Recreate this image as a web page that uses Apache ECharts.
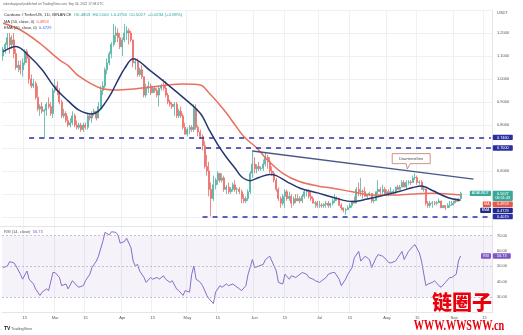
<!DOCTYPE html>
<html>
<head>
<meta charset="utf-8">
<script src="https://cdn.jsdelivr.net/npm/echarts/dist/echarts.min.js"></script>
<style>
  html, body { margin: 0; padding: 0; background: #ffffff; }
  #chart { width: 523px; height: 335px; }
</style>
</head>
<body>
<div id="chart"></div>
<script>
// ADA/USDT daily candles, [open, close, low, high], one array per month (2022)
const febCandles = [
  [1.10,1.13,1.08,1.14],[1.13,1.15,1.11,1.16],[1.15,1.18,1.13,1.20],[1.18,1.15,1.11,1.20],
  [1.15,1.17,1.13,1.19],[1.17,1.11,1.09,1.20],[1.11,1.05,1.04,1.13],[1.05,1.06,1.03,1.08],
  [1.06,1.04,1.02,1.08],[1.04,1.07,1.01,1.09],[1.07,1.12,1.06,1.13],[1.12,1.09,1.07,1.13],
  [1.09,1.00,0.98,1.10],[1.00,0.97,0.96,1.02],[0.97,0.98,0.96,1.00],[0.98,0.92,0.91,0.99],
  [0.92,0.87,0.86,0.97],[0.87,0.88,0.84,0.89],[0.88,0.86,0.85,0.90],[0.86,0.865,0.74,0.87],
  [0.865,0.89,0.84,0.90],[0.89,0.88,0.87,0.92],[0.88,0.85,0.84,0.90],[0.85,0.95,0.83,0.96]
];
const marCandles = [
  [0.95,0.97,0.94,1.00],[0.97,0.95,0.93,0.99],[0.95,0.90,0.89,0.96],[0.90,0.84,0.83,0.91],
  [0.84,0.85,0.83,0.87],[0.85,0.82,0.81,0.86],[0.82,0.80,0.79,0.84],[0.80,0.81,0.79,0.83],
  [0.81,0.84,0.80,0.86],[0.84,0.80,0.79,0.85],[0.80,0.79,0.78,0.82],[0.79,0.80,0.78,0.81],
  [0.80,0.78,0.77,0.81],[0.78,0.80,0.77,0.81],[0.80,0.79,0.78,0.81],[0.79,0.84,0.78,0.85],
  [0.84,0.83,0.82,0.85],[0.83,0.85,0.81,0.86],[0.85,0.86,0.84,0.87],[0.86,0.83,0.82,0.86],
  [0.83,0.88,0.83,0.90],[0.88,0.95,0.87,0.97],[0.95,0.97,0.93,0.99],[0.97,1.04,0.96,1.05],
  [1.04,1.07,1.02,1.09],[1.07,1.11,1.06,1.12],[1.11,1.15,1.09,1.16],[1.15,1.19,1.14,1.24],
  [1.19,1.20,1.16,1.23],[1.20,1.18,1.16,1.22],[1.18,1.14,1.13,1.20]
];
const aprCandles = [
  [1.14,1.17,1.10,1.18],[1.17,1.20,1.16,1.24],[1.20,1.21,1.17,1.23],[1.21,1.20,1.15,1.22],
  [1.20,1.17,1.16,1.21],[1.17,1.07,1.05,1.17],[1.07,1.075,1.04,1.09],[1.075,1.02,1.01,1.09],
  [1.02,1.04,1.01,1.05],[1.04,1.01,1.00,1.06],[1.01,0.93,0.92,1.01],[0.93,0.96,0.92,0.98],
  [0.96,0.97,0.94,0.99],[0.97,0.94,0.93,0.98],[0.94,0.96,0.94,0.97],[0.96,0.95,0.94,0.97],
  [0.95,0.93,0.92,0.96],[0.93,0.96,0.88,0.97],[0.96,0.97,0.95,0.98],[0.97,0.96,0.95,1.00],
  [0.96,0.93,0.92,0.99],[0.93,0.90,0.89,0.94],[0.90,0.89,0.88,0.91],[0.89,0.88,0.87,0.90],
  [0.88,0.89,0.84,0.90],[0.89,0.84,0.83,0.90],[0.84,0.86,0.83,0.87],[0.86,0.84,0.83,0.88],
  [0.84,0.79,0.78,0.85],[0.79,0.76,0.76,0.81]
];
const mayCandles = [
  [0.76,0.78,0.75,0.79],[0.78,0.79,0.76,0.80],[0.79,0.78,0.77,0.80],[0.78,0.87,0.77,0.89],
  [0.87,0.79,0.78,0.89],[0.79,0.77,0.75,0.80],[0.77,0.75,0.74,0.78],[0.75,0.71,0.69,0.76],
  [0.71,0.62,0.61,0.73],[0.62,0.60,0.58,0.67],[0.60,0.52,0.49,0.64],[0.52,0.48,0.402,0.55],
  [0.48,0.54,0.47,0.58],[0.54,0.56,0.52,0.57],[0.56,0.59,0.54,0.60],[0.59,0.56,0.55,0.59],
  [0.56,0.57,0.55,0.59],[0.57,0.52,0.51,0.58],[0.52,0.53,0.50,0.54],[0.53,0.51,0.50,0.55],
  [0.51,0.52,0.50,0.53],[0.52,0.54,0.51,0.55],[0.54,0.52,0.51,0.56],[0.52,0.521,0.50,0.53],
  [0.521,0.51,0.50,0.53],[0.51,0.48,0.46,0.52],[0.48,0.47,0.46,0.50],[0.47,0.48,0.46,0.49],
  [0.48,0.51,0.47,0.52],[0.51,0.59,0.50,0.60],[0.59,0.63,0.57,0.69]
];
const junCandles = [
  [0.63,0.61,0.59,0.66],[0.61,0.62,0.59,0.63],[0.62,0.61,0.60,0.64],[0.61,0.612,0.60,0.62],
  [0.612,0.63,0.60,0.65],[0.63,0.66,0.62,0.68],[0.66,0.64,0.61,0.67],[0.64,0.60,0.59,0.66],
  [0.60,0.59,0.58,0.62],[0.59,0.56,0.55,0.60],[0.56,0.52,0.51,0.57],[0.52,0.48,0.47,0.53],
  [0.48,0.46,0.44,0.49],[0.46,0.49,0.45,0.50],[0.49,0.51,0.44,0.52],[0.51,0.48,0.47,0.52],
  [0.48,0.49,0.47,0.51],[0.49,0.46,0.44,0.50],[0.46,0.48,0.45,0.49],[0.48,0.47,0.46,0.50],
  [0.47,0.48,0.47,0.50],[0.48,0.47,0.46,0.49],[0.47,0.49,0.46,0.50],[0.49,0.51,0.48,0.52],
  [0.51,0.512,0.49,0.52],[0.512,0.49,0.48,0.52],[0.49,0.48,0.47,0.51],[0.48,0.46,0.46,0.49],
  [0.46,0.462,0.44,0.47],[0.462,0.45,0.44,0.47]
];
const julCandles = [
  [0.45,0.452,0.44,0.47],[0.452,0.45,0.44,0.46],[0.45,0.455,0.44,0.46],[0.455,0.46,0.44,0.47],
  [0.46,0.45,0.44,0.47],[0.45,0.46,0.44,0.46],[0.46,0.47,0.45,0.48],[0.47,0.48,0.46,0.50],
  [0.48,0.482,0.47,0.49],[0.482,0.45,0.45,0.48],[0.45,0.44,0.43,0.46],[0.44,0.43,0.42,0.44],
  [0.43,0.432,0.41,0.44],[0.432,0.44,0.43,0.45],[0.44,0.45,0.44,0.46],[0.45,0.47,0.44,0.47],
  [0.47,0.46,0.46,0.49],[0.46,0.52,0.46,0.53],[0.52,0.51,0.49,0.55],[0.51,0.512,0.49,0.57],
  [0.512,0.51,0.48,0.52],[0.51,0.49,0.49,0.53],[0.49,0.50,0.48,0.50],[0.50,0.502,0.49,0.51],
  [0.502,0.47,0.46,0.50],[0.47,0.472,0.46,0.48],[0.472,0.51,0.47,0.51],[0.51,0.52,0.50,0.56],
  [0.52,0.51,0.50,0.53],[0.51,0.52,0.50,0.54],[0.52,0.50,0.50,0.53]
];
const augCandles = [
  [0.50,0.51,0.49,0.52],[0.51,0.505,0.49,0.52],[0.505,0.51,0.50,0.53],[0.51,0.512,0.50,0.52],
  [0.512,0.53,0.50,0.53],[0.53,0.52,0.52,0.54],[0.52,0.53,0.52,0.54],[0.53,0.55,0.53,0.56],
  [0.55,0.53,0.53,0.56],[0.53,0.55,0.52,0.56],[0.55,0.552,0.54,0.56],[0.552,0.55,0.54,0.56],
  [0.55,0.57,0.55,0.58],[0.57,0.572,0.56,0.59],[0.572,0.55,0.54,0.58],[0.55,0.552,0.54,0.56],
  [0.552,0.52,0.52,0.56],[0.52,0.522,0.51,0.53],[0.522,0.46,0.45,0.52],[0.46,0.45,0.44,0.47],
  [0.45,0.46,0.44,0.47],[0.46,0.462,0.44,0.47],[0.462,0.46,0.45,0.47],[0.46,0.462,0.45,0.47],
  [0.462,0.47,0.46,0.48],[0.47,0.44,0.44,0.47],[0.44,0.45,0.44,0.45],[0.45,0.44,0.43,0.45],
  [0.44,0.45,0.44,0.46],[0.45,0.452,0.44,0.47],[0.452,0.46,0.45,0.47]
];
const sepCandles = [
  [0.46,0.47,0.45,0.47],[0.47,0.468,0.46,0.48],[0.468,0.4793,0.466,0.482],[0.4803,0.5027,0.4756,0.5100]
];

// Moving averages read at sample days (day 0 = 2022-02-05)
const maDays   = [0, 8, 17, 26, 30, 35, 45, 53, 60, 68, 76, 83, 91, 95, 99, 103, 107, 111, 117, 122, 129, 137, 145, 152, 161, 170, 180, 189, 198, 211];
const maValues = [1.242, 1.213, 1.155, 1.083, 1.058, 1.012, 0.960, 0.952, 0.957, 0.965, 0.974, 0.978, 0.974, 0.939, 0.898, 0.852, 0.800, 0.750, 0.700, 0.648, 0.590, 0.553, 0.535, 0.525, 0.510, 0.496, 0.496, 0.500, 0.503, 0.4953];
const emaDays   = [0, 6, 12, 18, 24, 30, 35, 41, 44, 47, 50, 53, 56, 60, 68, 76, 83, 91, 95, 99, 103, 107, 110, 114, 118, 123, 126, 131, 137, 145, 152, 161, 168, 175, 183, 189, 193, 198, 205, 211];
const emaValues = [1.119, 1.141, 1.100, 1.040, 0.961, 0.905, 0.865, 0.848, 0.860, 0.895, 0.940, 0.995, 1.045, 1.088, 1.035, 0.975, 0.920, 0.850, 0.780, 0.715, 0.660, 0.612, 0.575, 0.558, 0.572, 0.585, 0.580, 0.553, 0.525, 0.505, 0.486, 0.467, 0.478, 0.493, 0.512, 0.528, 0.535, 0.515, 0.485, 0.4729];

// RSI (14, close)
const rsiDays = [0,2,3,5,6,8,9,11,12,14,15,17,18,20,21,23,24,26,27,29,30,32,34,35,37,38,40,41,43,44,46,47,49,50,52,53,54,56,57,59,60,61,62,63,65,66,68,69,71,72,74,75,77,78,80,81,83,84,86,87,88,89,91,92,94,95,97,98,100,101,103,104,106,107,109,110,112,113,115,116,118,120,121,123,124,126,127,129,130,132,133,135,136,138,140,141,143,144,146,147,149,150,152,153,155,156,158,159,161,162,164,165,167,169,170,172,173,175,176,178,179,181,182,184,185,187,189,190,192,193,195,196,198,199,201,202,204,206,207,209,210,211];
const rsiValues = [49.2,50.2,53.0,52.3,50.2,44.9,41.7,47.0,41.7,38.6,35.4,31.2,33.3,35.4,34.3,46.0,46.0,42.8,37.5,38.6,35.4,40.7,37.5,36.5,37.5,40.7,44.9,49.2,53.4,56.6,66.1,72.0,70.3,72.4,72.0,70.3,65.0,66.1,68.2,61.9,53.4,50.2,51.3,47.0,42.8,39.6,42.8,41.7,42.8,41.7,43.9,41.7,39.6,40.7,35.4,34.3,31.2,34.3,33.3,44.9,50.2,41.7,39.6,37.5,31.2,29.0,25.9,33.3,37.5,36.5,38.6,37.5,38.6,37.5,35.4,34.3,37.5,44.9,54.4,49.2,50.2,51.3,54.4,56.6,53.4,47.0,39.6,38.6,44.9,41.7,43.9,42.8,43.9,46.0,44.9,42.8,41.7,40.7,39.6,40.7,42.8,44.9,46.0,46.0,41.7,37.5,41.7,44.9,49.2,55.5,59.7,53.4,56.6,54.4,49.2,55.5,57.6,56.6,55.5,52.3,52.3,53.4,55.5,59.7,54.4,59.7,62.9,64.0,58.7,53.4,37.5,38.6,39.6,40.7,37.5,36.5,39.6,42.8,42.8,44.9,53.4,56.73];

// Drawn levels
const resistanceHigh = 0.7460;
const resistanceLow = 0.7000;
const supportLevel = 0.4019;
const trendStart = { day: 115, value: 0.687 };
const trendEnd = { day: 217, value: 0.565 };

// ---- build ----
const candles = [].concat(febCandles, marCandles, aprCandles, mayCandles, junCandles, julCandles, augCandles, sepCandles);
const totalDays = 226; // trading days plus empty space on the right
const monthNames = ['Jan','Feb','Mar','Apr','May','Jun','Jul','Aug','Sep','Oct','Nov','Dec'];
const firstDay = Date.UTC(2022, 1, 5);
const dates = [];
for (let i = 0; i < totalDays; i++) dates.push(new Date(firstDay + i * 86400000).toISOString().slice(0, 10));

function sparse(days, values) {
  const arr = new Array(totalDays).fill(null);
  days.forEach((d, k) => { arr[d] = values[k]; });
  return arr;
}
const isTickDay = (i) => { const d = +dates[i].slice(8, 10); return d === 1 || d === 15; };
const tickText = (v) => { const d = +v.slice(8, 10); return d === 1 ? monthNames[+v.slice(5, 7) - 1] : '15'; };

const UP = '#4fb3a3', DOWN = '#ef6a66';
const MA_COLOR = '#e8705f', EMA_COLOR = '#243770';
const LEVEL_COLOR = '#2b30a0', RSI_COLOR = '#8a6cc8';
const FONT = 'Liberation Sans, Arial, sans-serif';
const GRID_LEFT = 2, GRID_RIGHT = 31;
const axisX = 523 - GRID_RIGHT;

const faint = '#eef0f3';
const mainSplitColors = ['rgba(0,0,0,0)'].concat(new Array(11).fill(faint));

const chart = echarts.init(document.getElementById('chart'), null, { renderer: 'canvas' });

const option = {
  animation: false,
  backgroundColor: '#ffffff',
  grid: [
    { left: GRID_LEFT, right: GRID_RIGHT, top: 10, height: 230, outerBoundsMode: 'none' },
    { left: GRID_LEFT, right: GRID_RIGHT, top: 220, height: 92.7, outerBoundsMode: 'none' }
  ],
  xAxis: [
    { type: 'category', gridIndex: 0, data: dates, boundaryGap: true,
      axisLine: { show: false }, axisTick: { show: false }, axisLabel: { show: false },
      splitLine: { show: true, interval: (i) => isTickDay(i), lineStyle: { color: faint, width: 1 } } },
    { type: 'category', gridIndex: 1, data: dates, boundaryGap: true,
      axisLine: { show: true, lineStyle: { color: '#e3e5ea', width: 1 } }, axisTick: { show: false },
      axisLabel: { interval: (i) => isTickDay(i), formatter: tickText, fontSize: 4, color: '#555', margin: 3, fontFamily: FONT },
      splitLine: { show: true, interval: (i) => isTickDay(i), lineStyle: { color: faint, width: 1 } } }
  ],
  yAxis: [
    { type: 'value', gridIndex: 0, position: 'right', min: 0.3, max: 1.3, interval: 0.1,
      axisLine: { show: false }, axisTick: { show: false },
      axisLabel: { fontSize: 4, color: '#555', margin: 5, fontFamily: FONT,
        formatter: (v) => (v < 0.35 || v > 1.25) ? '' : v.toFixed(4) },
      splitLine: { show: true, lineStyle: { color: mainSplitColors, width: 1 } } },
    { type: 'value', gridIndex: 1, position: 'right', min: 20, max: 80, interval: 10,
      axisLine: { show: false }, axisTick: { show: false },
      axisLabel: { fontSize: 4, color: '#555', margin: 5, fontFamily: FONT,
        formatter: (v) => (v < 25 || v > 75) ? '' : v.toFixed(2) },
      splitLine: { show: false } }
  ],
  series: [
    { type: 'candlestick', name: 'ADAUSDT', xAxisIndex: 0, yAxisIndex: 0, data: candles,
      barWidth: 1.5,
      itemStyle: { color: UP, color0: DOWN, borderColor: UP, borderColor0: DOWN, borderWidth: 0.8 },
      markLine: {
        silent: true, symbol: ['none', 'none'], label: { show: false }, animation: false,
        data: [
          [{ coord: [12, resistanceHigh], lineStyle: { color: LEVEL_COLOR, width: 1.6, type: [5, 5] } }, { coord: [totalDays - 1, resistanceHigh] }],
          [{ coord: [89, resistanceLow], lineStyle: { color: LEVEL_COLOR, width: 1.6, type: [5, 5] } }, { coord: [totalDays - 1, resistanceLow] }],
          [{ coord: [92, supportLevel], lineStyle: { color: LEVEL_COLOR, width: 1.6, type: [5, 5] } }, { coord: [totalDays - 1, supportLevel] }],
          [{ coord: [trendStart.day, trendStart.value], lineStyle: { color: '#4a5888', width: 1.3, type: 'solid' } }, { coord: [trendEnd.day, trendEnd.value] }]
        ]
      }
    },
    { type: 'line', name: 'MA', xAxisIndex: 0, yAxisIndex: 0, data: sparse(maDays, maValues),
      connectNulls: true, smooth: 0.35, showSymbol: false, symbol: 'none',
      lineStyle: { color: MA_COLOR, width: 1.5 }, z: 3 },
    { type: 'line', name: 'EMA', xAxisIndex: 0, yAxisIndex: 0, data: sparse(emaDays, emaValues),
      connectNulls: true, smooth: 0.35, showSymbol: false, symbol: 'none',
      lineStyle: { color: EMA_COLOR, width: 1.5 }, z: 4 },
    { type: 'line', name: 'RSI', xAxisIndex: 1, yAxisIndex: 1, data: sparse(rsiDays, rsiValues),
      connectNulls: true, smooth: false, showSymbol: false, symbol: 'none',
      lineStyle: { color: RSI_COLOR, width: 1 },
      markArea: { silent: true, itemStyle: { color: 'rgba(126,87,194,0.08)' }, data: [[{ yAxis: 30 }, { yAxis: 70 }]] },
      markLine: { silent: true, symbol: ['none', 'none'], label: { show: false },
        lineStyle: { color: '#b9b4c8', width: 0.8, type: [2, 2] },
        data: [{ yAxis: 30 }, { yAxis: 50 }, { yAxis: 70 }] } }
  ]
};
chart.setOption(option);

// ---- overlay texts and price tags ----
const last = candles[candles.length - 1];
const prevClose = candles[candles.length - 2][1];
const lastClose = last[1];
const change = lastClose - prevClose;
const f4 = (v) => v.toFixed(4);
const maLast = maValues[maValues.length - 1];
const emaLast = emaValues[emaValues.length - 1];
const rsiLast = rsiValues[rsiValues.length - 1];

const g = [];
function txt(x, y, text, fill, size, extra) {
  g.push(Object.assign({ type: 'text', x, y, z: 120,
    style: { text, fill, font: (extra && extra.weight ? extra.weight + ' ' : '') + size + 'px ' + ((extra && extra.family) || FONT),
      textAlign: (extra && extra.align) || 'left', textVerticalAlign: 'middle' } }, extra && extra.el ? extra.el : {}));
}
txt(3, 4.5, 'rakeshupgrad published on TradingView.com, Sep 04, 2022 17:08 UTC', '#666', 3.2);
g.push({ type: 'text', x: 4, y: 14.5, z: 120, style: {
  text: '{a|Cardano / TetherUS, 1D, BINANCE}  {b|O' + f4(last[0]) + '  H' + f4(last[3]) + '  L' + f4(last[2]) + '  C' + f4(lastClose) +
        '  +' + f4(change) + ' (+' + (change / prevClose * 100).toFixed(2) + '%)}',
  textVerticalAlign: 'middle', font: '4.3px ' + FONT,
  rich: { a: { fill: '#333', fontSize: 4.3, fontFamily: FONT }, b: { fill: '#26a69a', fontSize: 4.3, fontFamily: FONT } } } });
g.push({ type: 'text', x: 4, y: 21.5, z: 120, style: {
  text: '{a|MA (50, close, 0)}  {b|' + f4(maLast) + '}', textVerticalAlign: 'middle', font: '4px ' + FONT,
  rich: { a: { fill: '#333', fontSize: 4, fontFamily: FONT }, b: { fill: '#e84c3d', fontSize: 4, fontFamily: FONT } } } });
g.push({ type: 'text', x: 4, y: 28, z: 120, style: {
  text: '{a|EMA (20, close, 0)}  {b|' + f4(emaLast) + '}', textVerticalAlign: 'middle', font: '4px ' + FONT,
  rich: { a: { fill: '#333', fontSize: 4, fontFamily: FONT }, b: { fill: '#2962ff', fontSize: 4, fontFamily: FONT } } } });
g.push({ type: 'text', x: 4, y: 232, z: 120, style: {
  text: '{a|RSI (14, close)}  {b|' + rsiLast.toFixed(2) + '}', textVerticalAlign: 'middle', font: '4px ' + FONT,
  rich: { a: { fill: '#555', fontSize: 4, fontFamily: FONT }, b: { fill: '#7e57c2', fontSize: 4, fontFamily: FONT } } } });
txt(axisX + 5, 13, 'USDT', '#555', 4);

// pane borders
g.push({ type: 'line', z: 90, shape: { x1: axisX + 0.5, y1: 10, x2: axisX + 0.5, y2: 312.7 }, style: { stroke: '#e3e5ea', lineWidth: 1 } });
g.push({ type: 'line', z: 90, shape: { x1: 0, y1: 226.5, x2: axisX, y2: 226.5 }, style: { stroke: '#e3e5ea', lineWidth: 1 } });

// price tags on the right axis, stacked so they don't overlap
const py = (v) => chart.convertToPixel({ yAxisIndex: 0 }, v);
const tags = [
  { v: resistanceHigh, lines: [f4(resistanceHigh)], fill: LEVEL_COLOR },
  { v: resistanceLow, lines: [f4(resistanceLow)], fill: LEVEL_COLOR },
  { v: lastClose, lines: [f4(lastClose), '06:51:43'], fill: '#3aa897', name: 'ADAUSDT' },
  { v: maLast, lines: [f4(maLast)], fill: '#e8574a', name: 'MA' },
  { v: emaLast, lines: [f4(emaLast)], fill: '#1f2a88', name: 'EMA' },
  { v: supportLevel, lines: [f4(supportLevel)], fill: LEVEL_COLOR }
].map(t => Object.assign(t, { y: py(t.v) })).sort((a, b) => a.y - b.y);
let prevBottom = -Infinity;
tags.forEach(t => {
  const h = 5.4 + (t.lines.length - 1) * 4.8;
  let top = Math.max(t.y - 2.7, prevBottom + 0.7);
  prevBottom = top + h;
  g.push({ type: 'rect', z: 110, shape: { x: axisX + 0.8, y: top, width: 20, height: h, r: 0.8 }, style: { fill: t.fill } });
  t.lines.forEach((s, k) => txt(axisX + 10.8, top + 2.8 + k * 4.8, s, '#fff', 3.8, { align: 'center' }));
  if (t.name) {
    const w = t.name.length * 2.6 + 3;
    g.push({ type: 'rect', z: 110, shape: { x: axisX - 1 - w, y: top, width: w, height: 5.4, r: 0.8 }, style: { fill: t.fill } });
    txt(axisX - 1 - w / 2, top + 2.8, t.name, '#fff', 3.6, { align: 'center' });
  }
});
// RSI tag
const rsiY = chart.convertToPixel({ yAxisIndex: 1 }, rsiLast);
g.push({ type: 'rect', z: 110, shape: { x: axisX + 0.8, y: rsiY - 2.7, width: 18, height: 5.4, r: 0.8 }, style: { fill: '#7e57c2' } });
txt(axisX + 9.8, rsiY + 0.1, rsiLast.toFixed(2), '#fff', 3.8, { align: 'center' });
g.push({ type: 'rect', z: 110, shape: { x: axisX - 11, y: rsiY - 2.7, width: 10, height: 5.4, r: 0.8 }, style: { fill: '#7e57c2' } });
txt(axisX - 6, rsiY + 0.1, 'RSI', '#fff', 3.6, { align: 'center' });

// "Downtrend line" callout anchored on the trend line
const pA = chart.convertToPixel({ gridIndex: 0 }, [trendStart.day, trendStart.value]);
const pB = chart.convertToPixel({ gridIndex: 0 }, [trendEnd.day, trendEnd.value]);
const tipX = pA[0] + (pB[0] - pA[0]) * 0.70;
const tipY = pA[1] + (pB[1] - pA[1]) * 0.70 - 1.5;
g.push({ type: 'polygon', z: 112, shape: { points: [[tipX - 15, tipY - 15.5], [tipX + 23, tipY - 15.5], [tipX + 23, tipY - 5.5], [tipX + 3, tipY - 5.5], [tipX, tipY], [tipX - 1, tipY - 5.5], [tipX - 15, tipY - 5.5]] },
  style: { fill: '#ffffff', stroke: '#c27b6a', lineWidth: 0.8 } });
txt(tipX + 4, tipY - 10.5, 'Downtrend line', '#444', 3.6, { align: 'center' });

// footer logo
txt(4, 329, 'TV', '#131722', 5, { weight: 'bold' });
txt(11, 329, 'TradingView', '#555', 3.8);

// watermark
g.push({ type: 'text', x: 462, y: 302, z: 130, style: { text: '链圈子', fill: '#e8000d', stroke: '#ffffff', lineWidth: 1,
  font: '900 20px "Noto Sans CJK SC"', textAlign: 'center', textVerticalAlign: 'middle' } });
g.push({ type: 'text', x: 459, y: 326.5, z: 130, scaleX: 0.68,
  style: { text: 'WWW.WWSWW.cn', fill: '#e8000d', font: 'bold 15px "Liberation Serif", serif', textAlign: 'center', textVerticalAlign: 'middle' } });

chart.setOption({ graphic: { elements: g } });
</script>
</body>
</html>
